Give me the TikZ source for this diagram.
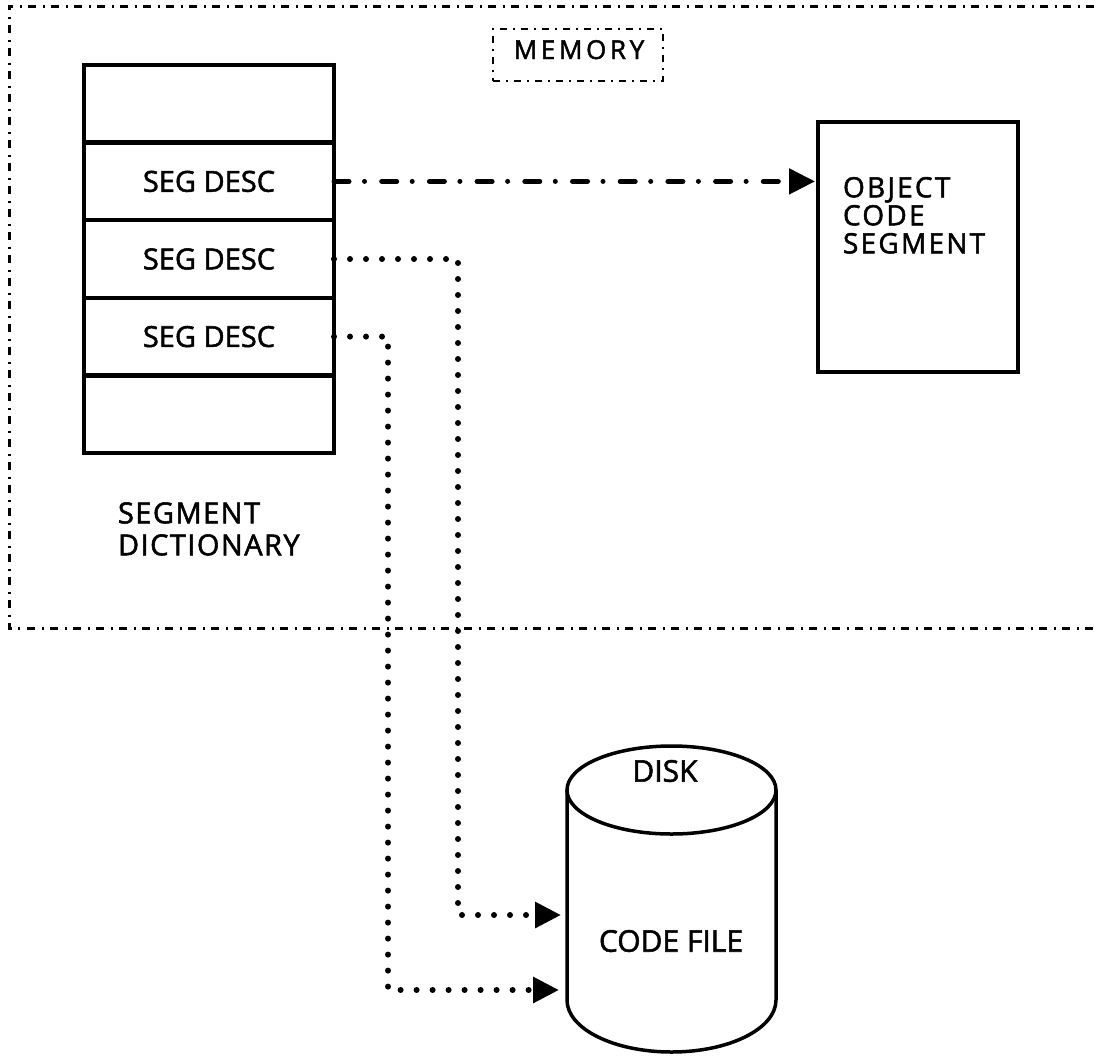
\documentclass[tikz,border=0pt]{standalone}
\usepackage{fontspec}
\setmainfont{Open Sans}[FakeBold=1.8]
\newfontfamily\objfont{Open Sans}[LetterSpace=8, FakeBold=1.8]
\newfontfamily\dictfont{Open Sans}[LetterSpace=5, FakeBold=1.8]
\newfontfamily\memfont{Open Sans}[LetterSpace=14, FakeBold=1.8]
\usetikzlibrary{arrows.meta}

\tikzset{
  memframe/.style={line width=3pt, dash pattern=on 8pt off 6.5pt on 2pt off 6.5pt},
  tagbox/.style={draw, line width=2.5pt, dash pattern=on 7pt off 6pt on 2pt off 6pt,
    minimum width=170pt, minimum height=52pt, inner sep=0pt},
  rowbox/.style={draw, line width=4.5pt, minimum width=250pt, minimum height=77.6pt,
    inner sep=0pt, outer sep=0pt, font=\fontsize{29}{34}\selectfont},
  objbox/.style={draw, line width=4.5pt, minimum width=200pt, minimum height=250pt,
    inner sep=0pt, outer sep=0pt},
  diskbody/.style={minimum width=209pt, minimum height=210pt, inner sep=0pt, outer sep=0pt},
  dotlink/.style={line width=6pt, line cap=round, dash pattern=on 0pt off 16pt},
  dashdotlink/.style={line width=5pt, line cap=round,
    dash pattern=on 15pt off 15.5pt on 0pt off 17.2pt},
  headtip/.style={-{Triangle[length=26pt,width=25pt]}},
  cyl/.style={line width=3.5pt},
  lbl/.style={inner sep=0pt, outer sep=0pt},
}

\begin{document}
\begin{tikzpicture}[x=1pt, y=-1pt]
\useasboundingbox (0,0) rectangle (1094,1055);

% memory region (open to the right)
\draw[memframe] (1094,6) -- (9,6) -- (9,628) -- (1094,628);
\node[tagbox] (memtag) at (578,55) {};
\node[lbl, anchor=base, font=\memfont\fontsize{26}{30}\selectfont] (memtext) at (579,59) {MEMORY};

% segment dictionary
\node[rowbox] (r1) at (209,103.8) {};
\node[rowbox] (r2) at (209,181.4) {SEG DESC};
\node[rowbox] (r3) at (209,259) {SEG DESC};
\node[rowbox] (r4) at (209,336.6) {SEG DESC};
\node[rowbox] (r5) at (209,414.2) {};
\node[lbl, anchor=north west, align=left, font=\dictfont\fontsize{29}{32}\selectfont]
  (dictlabel) at (118,502.3) {SEGMENT\\DICTIONARY};

% object code segment
\node[objbox] (obj) at (918,247) {};
\node[lbl, anchor=north west, align=left, font=\objfont\fontsize{28}{28}\selectfont]
  (objtext) at (843,177) {OBJECT\\CODE\\SEGMENT};

% disk
\node[diskbody] (disk) at (671.5,895) {};
\draw[cyl] (disk.north west) -- (disk.south west)
  arc[start angle=180, end angle=360, x radius=104.5pt, y radius=52pt]
  -- (disk.north east);
\draw[cyl] (disk.north) ellipse[x radius=104.5pt, y radius=44pt];
\node[lbl, font=\fontsize{30}{34}\selectfont] (disktext) at (665,771) {DISK};
\node[lbl, font=\fontsize{30}{34}\selectfont] (filetext) at (671,941) {CODE FILE};

% connectors
\coordinate (j1) at (458,915);
\coordinate (j2) at (388,990);
\coordinate (in1) at (561,915);
\coordinate (in2) at (559,990);

\draw[dashdotlink, headtip, shorten >=3pt] (r2.east) -- (r2.east -| obj.west);
\draw[dotlink, headtip] (r3.east) -| (j1) -- (in1);
\draw[dotlink, headtip] (r4.east) -| (j2) -- (in2);
\end{tikzpicture}
\end{document}
